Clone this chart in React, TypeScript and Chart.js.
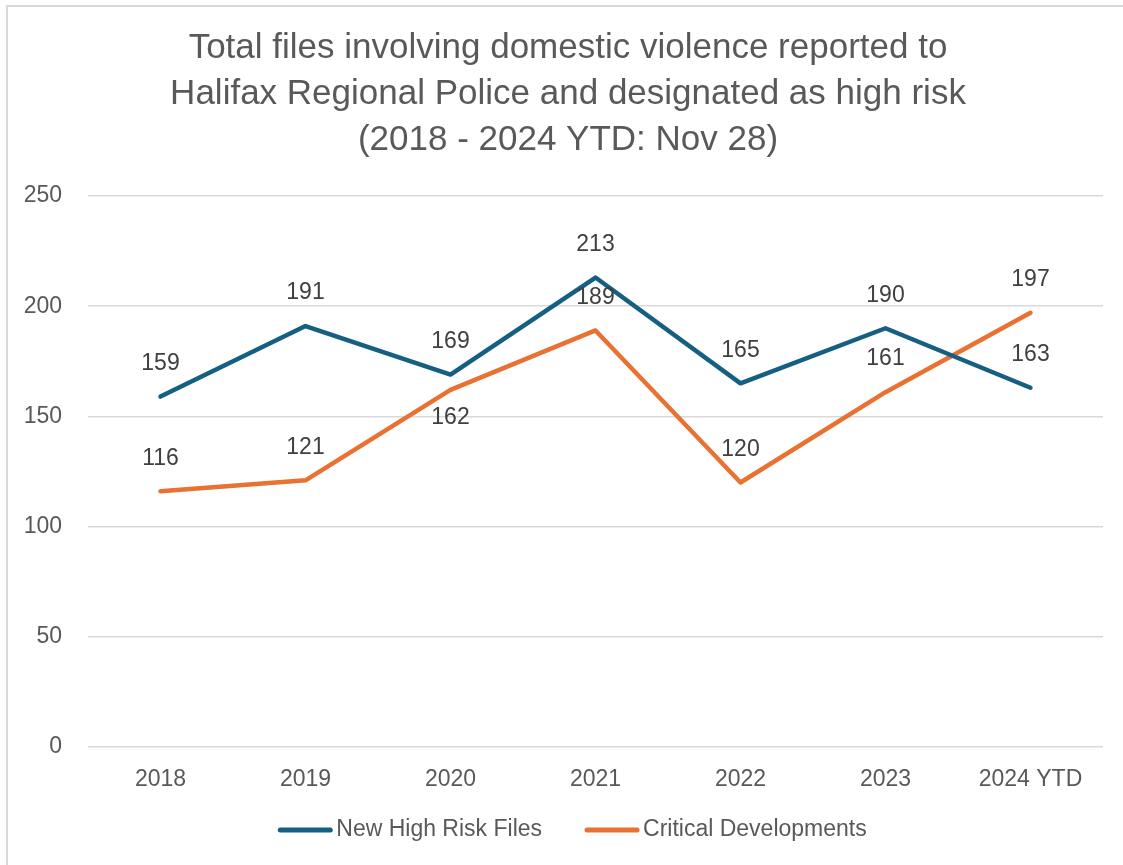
import React, { useEffect, useRef } from "react";
import { Chart, registerables } from "chart.js";

Chart.register(...registerables);

const categories = ["2018", "2019", "2020", "2021", "2022", "2023", "2024 YTD"];
const newHighRiskFiles = [159, 191, 169, 213, 165, 190, 163];
const criticalDevelopments = [116, 121, 162, 189, 120, 161, 197];
const blueLabelPos = ["above", "above", "above", "above", "above", "above", "above"];
const orangeLabelPos = ["above", "above", "below", "above", "above", "above", "above"];
const titleLines = [
  "Total files involving domestic violence reported to",
  "Halifax Regional Police and designated as high risk",
  "(2018 - 2024 YTD: Nov 28)",
];
const yMax = 250;
const yStep = 50;

const FONT = "'Liberation Sans', Arial, sans-serif";
const BLUE = "#156082";
const ORANGE = "#E97132";
const TEXT = "#595959";
const FS = 23;

const titlePlugin = {
  id: "customTitle",
  afterDraw(chart: any) {
    const ctx = chart.ctx;
    ctx.save();
    ctx.font = `35px ${FONT}`;
    ctx.fillStyle = TEXT;
    ctx.textAlign = "center";
    ctx.textBaseline = "middle";
    titleLines.forEach((line, i) => {
      ctx.fillText(line, 568, 48 + i * 46);
    });
    ctx.restore();
  },
};

const dataLabelPlugin = {
  id: "dataLabels",
  afterDatasetsDraw(chart: any) {
    const ctx = chart.ctx;
    ctx.save();
    ctx.font = `${FS}px ${FONT}`;
    ctx.fillStyle = "#404040";
    ctx.textAlign = "center";
    ctx.textBaseline = "middle";
    chart.data.datasets.forEach((ds: any, i: number) => {
      const meta = chart.getDatasetMeta(i);
      const pos = ds.labelPos as string[];
      meta.data.forEach((pt: any, j: number) => {
        const dy = pos[j] === "below" ? 28 : -33;
        ctx.fillText(String(ds.data[j]), pt.x, pt.y + dy);
      });
    });
    ctx.restore();
  },
};

const legendPlugin = {
  id: "customLegend",
  afterDraw(chart: any) {
    const ctx = chart.ctx;
    ctx.save();
    ctx.font = `${FS}px ${FONT}`;
    const lineW = 56;
    const gapText = 3;
    const gapItem = 42;
    const items = chart.data.datasets.map((ds: any) => ({
      label: ds.label,
      color: ds.borderColor,
      w: lineW + gapText + ctx.measureText(ds.label).width,
    }));
    const total = items.reduce((s: number, it: any) => s + it.w, 0) + gapItem * (items.length - 1);
    let x = 572 - total / 2;
    const y = 830;
    items.forEach((it: any) => {
      ctx.strokeStyle = it.color;
      ctx.lineWidth = 5;
      ctx.lineCap = "round";
      ctx.beginPath();
      ctx.moveTo(x + 3, y);
      ctx.lineTo(x + lineW - 3, y);
      ctx.stroke();
      ctx.fillStyle = TEXT;
      ctx.textAlign = "left";
      ctx.textBaseline = "middle";
      ctx.fillText(it.label, x + lineW + gapText, y);
      x += it.w + gapItem;
    });
    ctx.restore();
  },
};

export default function App() {
  const ref = useRef<HTMLCanvasElement | null>(null);

  useEffect(() => {
    if (!ref.current) return;
    const chart = new Chart(ref.current, {
      type: "line",
      data: {
        labels: categories,
        datasets: [
          {
            label: "New High Risk Files",
            data: newHighRiskFiles,
            borderColor: BLUE,
            backgroundColor: BLUE,
            borderWidth: 4.5,
            pointRadius: 0,
            tension: 0,
            borderCapStyle: "round",
            borderJoinStyle: "round",
            labelPos: blueLabelPos,
          } as any,
          {
            label: "Critical Developments",
            data: criticalDevelopments,
            borderColor: ORANGE,
            backgroundColor: ORANGE,
            borderWidth: 4.5,
            pointRadius: 0,
            tension: 0,
            borderCapStyle: "round",
            borderJoinStyle: "round",
            labelPos: orangeLabelPos,
          } as any,
        ],
      },
      options: {
        animation: false,
        responsive: false,
        maintainAspectRatio: false,
        layout: { padding: { left: 0, right: 20, top: 196, bottom: 54 } },
        plugins: {
          legend: { display: false },
          tooltip: { enabled: false },
          title: { display: false },
        },
        scales: {
          x: {
            offset: true,
            grid: { display: false, drawTicks: false },
            border: { display: false },
            ticks: { color: TEXT, font: { family: FONT, size: FS }, padding: 19, maxRotation: 0 },
            afterFit: (s: any) => {
              s.height = 64;
            },
          },
          y: {
            min: 0,
            max: yMax,
            ticks: { stepSize: yStep, color: TEXT, font: { family: FONT, size: FS }, padding: 26 },
            grid: { color: "#d9d9d9", lineWidth: 1.5, drawTicks: false },
            border: { display: false },
            afterFit: (s: any) => {
              s.width = 88;
            },
          },
        },
      },
      plugins: [dataLabelPlugin, legendPlugin, titlePlugin],
    });
    return () => chart.destroy();
  }, []);

  return (
    <div
      style={{
        position: "fixed",
        left: 0,
        top: 0,
        width: 1123,
        height: 865,
        background: "#fff",
        overflow: "hidden",
      }}
    >
      <div
        style={{
          position: "absolute",
          left: 6,
          top: 5,
          width: 1140,
          height: 900,
          border: "2px solid #d9d9d9",
          boxSizing: "border-box",
        }}
      />
      <canvas ref={ref} width={1123} height={865} style={{ position: "absolute", left: 0, top: 0 }} />
    </div>
  );
}
